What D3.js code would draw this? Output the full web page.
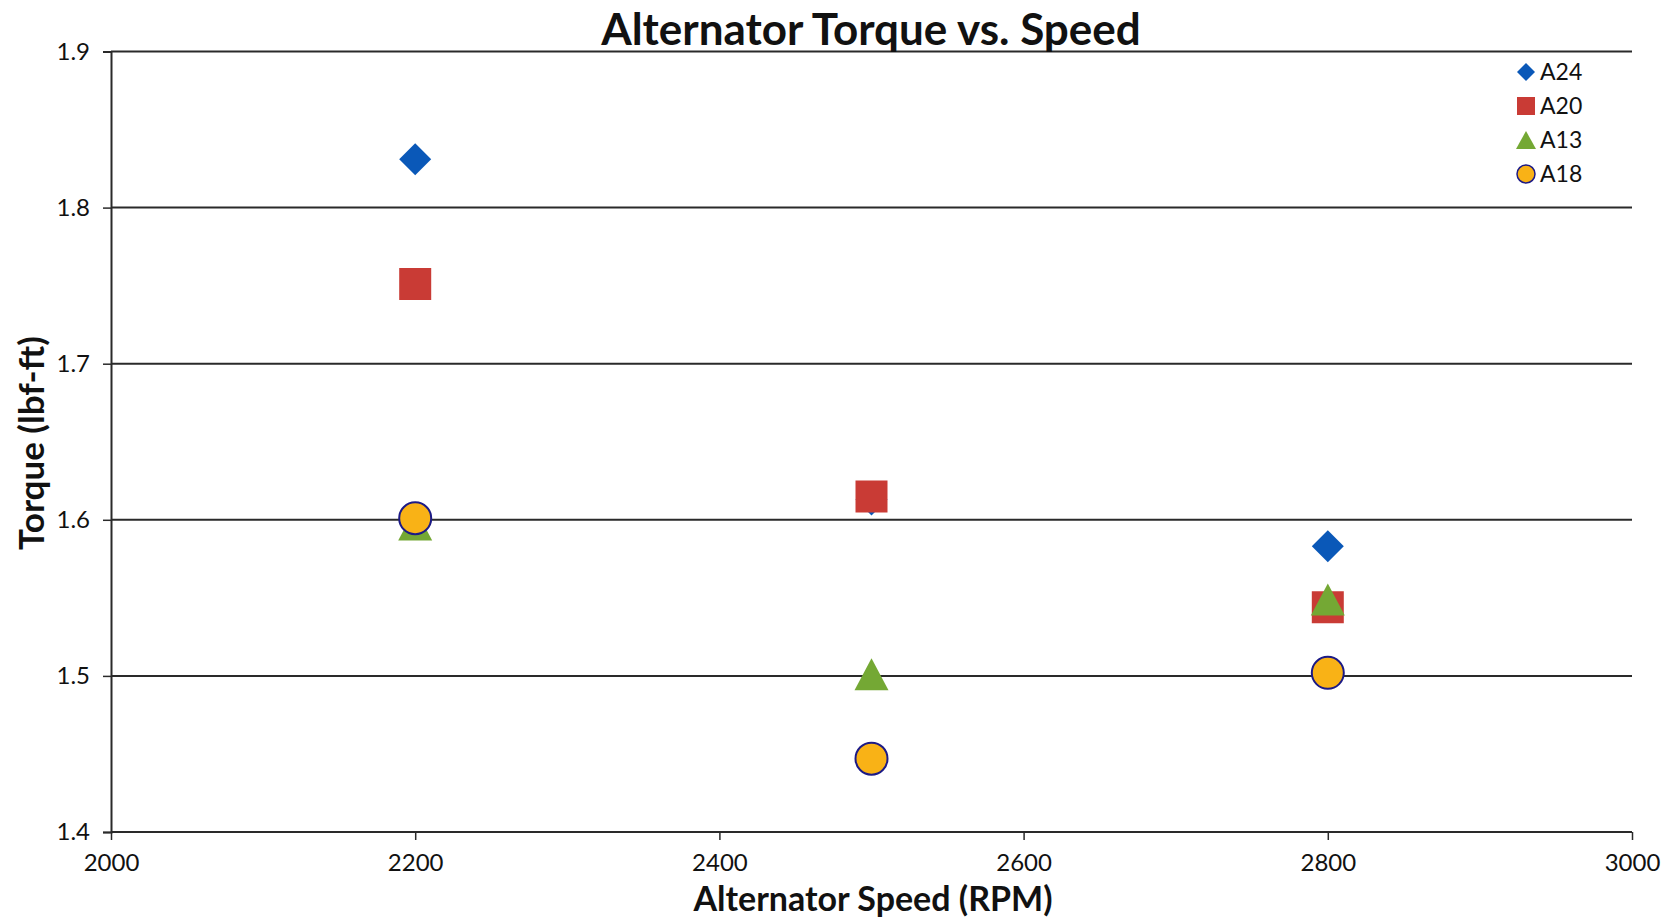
<!DOCTYPE html>
<html>
<head>
  <title>Alternator Torque vs. Speed</title>
  <script src='https://d3js.org/d3.v7.min.js'></script>
  <style>
    body { margin: 0; background: #fff; }
    text { font-family: Lato, 'Open Sans', sans-serif; fill: #111; }
  </style>
</head>
<body>
  <script>
// Data
var speeds = [2200, 2500, 2800];
var seriesNames = ['A24', 'A20', 'A13', 'A18'];
var a24 = [1.831, 1.613, 1.583];
var a20 = [1.751, 1.615, 1.544];
var a13 = [1.597, 1.501, 1.549];
var a18 = [1.601, 1.447, 1.502];
var xTicks = [2000, 2200, 2400, 2600, 2800, 3000];
var yTicks = [1.4, 1.5, 1.6, 1.7, 1.8, 1.9];

var width = 1669,
    height = 920;

var svg = d3.select('body')
  .append('svg')
  .attr('width', width)
  .attr('height', height);

var x = d3.scaleLinear().domain([2000, 3000]).range([111, 1632]);
var y = d3.scaleLinear().domain([1.4, 1.9]).range([832, 51.5]);

// marker shapes, s = overall width in px
function diamond(s) { var h = s / 2; return 'M0,' + (-h) + 'L' + h + ',0L0,' + h + 'L' + (-h) + ',0Z'; }
function square(s) { var h = s / 2; return 'M' + (-h) + ',' + (-h) + 'H' + h + 'V' + h + 'H' + (-h) + 'Z'; }
function triangle(s) { var h = s / 2; return 'M0,' + (-h) + 'L' + (h + 1) + ',' + h + 'L' + (-h - 1) + ',' + h + 'Z'; }
function circle(s) { var r = s / 2; return 'M' + r + ',0A' + r + ',' + r + ' 0 1,1 ' + (-r) + ',0A' + r + ',' + r + ' 0 1,1 ' + r + ',0Z'; }

var series = [
  { name: seriesNames[0], values: a24, shape: diamond, fill: '#0a58b8', stroke: 'none' },
  { name: seriesNames[1], values: a20, shape: square, fill: '#c93b35', stroke: 'none' },
  { name: seriesNames[2], values: a13, shape: triangle, fill: '#74a834', stroke: 'none' },
  { name: seriesNames[3], values: a18, shape: circle, fill: '#f9b216', stroke: '#1c1a86' }
];

// gridlines
svg.append('g')
  .selectAll('line')
  .data(yTicks)
  .enter()
  .append('line')
  .attr('x1', x(2000))
  .attr('x2', x(3000))
  .attr('y1', function(d) { return y(d); })
  .attr('y2', function(d) { return y(d); })
  .attr('stroke', '#2a2a2a')
  .attr('stroke-width', 2);

// axes
var xAxis = svg.append('g')
  .attr('transform', 'translate(0,' + y(1.4) + ')')
  .call(d3.axisBottom(x).tickValues(xTicks).tickSize(8).tickPadding(11).tickFormat(d3.format('d')));

var yAxis = svg.append('g')
  .attr('transform', 'translate(' + x(2000) + ',0)')
  .call(d3.axisLeft(y).tickValues(yTicks).tickSize(8).tickPadding(13).tickFormat(d3.format('.1f')));

[xAxis, yAxis].forEach(function(a) {
  a.select('.domain').attr('stroke', '#2a2a2a').attr('stroke-width', 2);
  a.selectAll('.tick line').attr('stroke', '#2a2a2a').attr('stroke-width', 1.5);
  a.selectAll('.tick text').style('font-size', '24px').attr('fill', '#111');
});
xAxis.select('.domain').attr('d', 'M' + x(2000) + ',0H' + x(3000));
xAxis.selectAll('.tick text').attr('dy', '0.85em');

// points
series.forEach(function(s) {
  svg.append('g')
    .selectAll('path')
    .data(s.values)
    .enter()
    .append('path')
    .attr('transform', function(d, i) { return 'translate(' + x(speeds[i]) + ',' + y(d) + ')'; })
    .attr('d', s.shape(32))
    .attr('fill', s.fill)
    .attr('stroke', s.stroke)
    .attr('stroke-width', 2);
});

// legend
var legend = svg.append('g').attr('transform', 'translate(1526,72)');
var rows = legend.selectAll('g')
  .data(series)
  .enter()
  .append('g')
  .attr('transform', function(d, i) { return 'translate(0,' + i * 34 + ')'; });
rows.append('path')
  .attr('d', function(d) { return d.shape(18); })
  .attr('fill', function(d) { return d.fill; })
  .attr('stroke', function(d) { return d.stroke; })
  .attr('stroke-width', 1.5);
rows.append('text')
  .attr('x', 14)
  .attr('dy', '0.36em')
  .style('font-size', '23px')
  .text(function(d) { return d.name; });

// titles
svg.append('text')
  .attr('x', 871)
  .attr('y', 45)
  .attr('text-anchor', 'middle')
  .style('font-size', '44px')
  .style('font-weight', 'bold')
  .text('Alternator Torque vs. Speed');

svg.append('text')
  .attr('x', 873)
  .attr('y', 911)
  .attr('text-anchor', 'middle')
  .style('font-size', '34px')
  .style('font-weight', 'bold')
  .text('Alternator Speed (RPM)');

svg.append('text')
  .attr('transform', 'translate(44,443) rotate(-90)')
  .attr('text-anchor', 'middle')
  .style('font-size', '35px')
  .style('font-weight', 'bold')
  .text('Torque (lbf-ft)');
  </script>
</body>
</html>
